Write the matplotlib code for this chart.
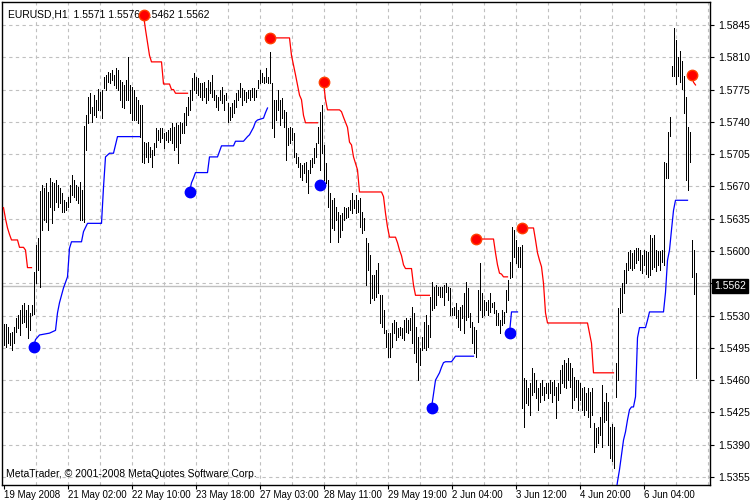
import numpy as np
import matplotlib
matplotlib.use('Agg')
import matplotlib.pyplot as plt
from matplotlib.transforms import blended_transform_factory

plt.rcParams['font.family'] = ['Liberation Sans', 'DejaVu Sans']

# prices are stored as the 4 digits after "1." (5521 -> 1.5521)
bar_high = [
    5521, 5521, 5518, 5511, 5512, 5518, 5527, 5531, 5536, 5541, 5544, 5536, 5541, 5533, 5541, 5577,
    5607, 5614, 5665, 5672, 5668, 5674, 5664, 5679, 5675, 5674, 5677, 5672, 5668, 5663, 5655, 5653,
    5659, 5672, 5682, 5677, 5672, 5669, 5675, 5666,
    5736, 5747, 5767, 5771, 5756, 5769, 5764, 5776, 5772,
    5775, 5789, 5791, 5794, 5793, 5796, 5791, 5798, 5796, 5785, 5783, 5780, 5785, 5810, 5780, 5778,
    5775, 5767, 5764, 5758, 5758, 5718, 5717, 5718, 5713, 5709, 5717, 5733, 5731, 5733, 5733, 5728,
    5729, 5731, 5733, 5739, 5734, 5739, 5737, 5740, 5739, 5750, 5756, 5767, 5775, 5788, 5793, 5789,
    5788, 5782,
    5782, 5783, 5777, 5785, 5783, 5791, 5775, 5769, 5767, 5775, 5778, 5769, 5771, 5760, 5756, 5760,
    5764, 5771, 5775, 5782, 5777, 5775, 5772, 5775, 5775, 5777, 5777, 5775, 5785, 5796, 5793, 5789,
    5798, 5789, 5816, 5782, 5764, 5764, 5775, 5764, 5766, 5753, 5751, 5733, 5734, 5733, 5728, 5706,
    5702, 5695,
    5693, 5695, 5696, 5688, 5699, 5701, 5712, 5717, 5734, 5751, 5758, 5715, 5695, 5677, 5663, 5655,
    5657, 5648, 5642, 5639, 5641, 5648, 5647, 5648, 5655, 5663, 5655, 5661, 5655, 5657, 5642, 5636,
    5614, 5609, 5596, 5574, 5574, 5579, 5587, 5552, 5552, 5536, 5514, 5511, 5511, 5522, 5525, 5523,
    5517, 5518,
    5517, 5525, 5527, 5525, 5527, 5539, 5533, 5518, 5507, 5495, 5507, 5523, 5531, 5520, 5550, 5566,
    5561, 5563, 5561, 5561, 5561, 5563, 5565, 5561, 5560, 5538, 5539, 5544, 5536, 5539, 5541, 5555,
    5566, 5560, 5533, 5523, 5518, 5514, 5558, 5587, 5555, 5547, 5545, 5547, 5555, 5544, 5545, 5536,
    5533, 5525,
    5536, 5534, 5558, 5569, 5588, 5626, 5623, 5612, 5604, 5604, 5607, 5462, 5460, 5452, 5457, 5473,
    5468, 5460, 5452, 5457, 5460, 5453, 5457, 5457, 5460, 5458, 5460, 5453, 5457, 5471, 5476, 5482,
    5479, 5484, 5479, 5473, 5463, 5460, 5460, 5457, 5452, 5453, 5446, 5452, 5447, 5452, 5414, 5408,
    5409, 5420,
    5455, 5436, 5446, 5436, 5409, 5412, 5409, 5479, 5538, 5560, 5565, 5579, 5587, 5599, 5601, 5598,
    5601, 5603, 5603, 5601, 5596, 5601, 5600, 5599, 5617, 5614, 5617, 5601, 5600, 5600, 5601, 5696,
    5695, 5729, 5745, 5801, 5842, 5829, 5810, 5817, 5806, 5790, 5767, 5734, 5729, 5612, 5601, 5576,
]
bar_low = [
    5498, 5496, 5500, 5498, 5493, 5500, 5512, 5517, 5509, 5522, 5523, 5518, 5506, 5514, 5531, 5532,
    5565, 5579, 5561, 5623, 5634, 5631, 5623, 5648, 5630, 5644, 5653, 5648, 5652, 5642, 5642, 5644,
    5648, 5653, 5661, 5659, 5655, 5652, 5634, 5634,
    5631, 5709, 5739, 5750, 5740, 5747, 5745, 5753, 5753,
    5744, 5777, 5775, 5783, 5782, 5785, 5780, 5777, 5775, 5764, 5756, 5755, 5764, 5764, 5750, 5742,
    5742, 5742, 5739, 5724, 5696, 5695, 5702, 5696, 5702, 5691, 5704, 5713, 5720, 5718, 5723, 5712,
    5720, 5718, 5720, 5717, 5709, 5713, 5695, 5717, 5728, 5728, 5737, 5747, 5753, 5764, 5775, 5771,
    5769, 5767,
    5764, 5767, 5760, 5764, 5771, 5767, 5764, 5756, 5753, 5764, 5760, 5753, 5764, 5740, 5742, 5745,
    5750, 5756, 5764, 5767, 5758, 5764, 5762, 5766, 5764, 5767, 5764, 5767, 5777, 5782, 5783, 5782,
    5783, 5782, 5782, 5733, 5724, 5742, 5753, 5737, 5744, 5734, 5699, 5715, 5717, 5720, 5702, 5695,
    5691, 5680,
    5677, 5685, 5675, 5663, 5685, 5691, 5695, 5702, 5717, 5688, 5706, 5677, 5674, 5648, 5610, 5625,
    5623, 5634, 5610, 5615, 5623, 5634, 5636, 5637, 5644, 5641, 5647, 5641, 5642, 5626, 5620, 5623,
    5563, 5579, 5544, 5549, 5547, 5550, 5555, 5522, 5518, 5511, 5496, 5485, 5485, 5496, 5511, 5504,
    5507, 5509,
    5506, 5504, 5512, 5511, 5514, 5500, 5489, 5480, 5460, 5476, 5493, 5495, 5493, 5496, 5507, 5536,
    5538, 5541, 5552, 5550, 5550, 5541, 5556, 5547, 5531, 5531, 5531, 5527, 5518, 5514, 5527, 5511,
    5525, 5529, 5518, 5500, 5489, 5485, 5523, 5536, 5529, 5531, 5536, 5531, 5534, 5539, 5533, 5520,
    5520, 5511,
    5520, 5522, 5534, 5547, 5571, 5572, 5594, 5587, 5583, 5583, 5430, 5409, 5435, 5433, 5422, 5444,
    5447, 5441, 5428, 5436, 5444, 5439, 5446, 5441, 5446, 5436, 5444, 5419, 5439, 5446, 5457, 5453,
    5452, 5460, 5453, 5430, 5438, 5442, 5428, 5439, 5428, 5422, 5428, 5420, 5409, 5422, 5382, 5388,
    5392, 5401,
    5388, 5415, 5417, 5390, 5376, 5372, 5365, 5442, 5460, 5533, 5534, 5555, 5565, 5579, 5582, 5579,
    5582, 5587, 5590, 5579, 5576, 5585, 5575, 5572, 5574, 5580, 5583, 5578, 5585, 5579, 5588, 5585,
    5679, 5679, 5725, 5790, 5790, 5781, 5790, 5783, 5776, 5750, 5677, 5666, 5696, 5572, 5553, 5462,
]

# trailing stop lines: (bar index, level) pieces
red_lines = [
    ([0, 1, 2, 3, 4, 7, 8, 10, 11, 12, 14],
     [5647, 5635, 5625, 5618, 5612, 5612, 5604, 5604, 5601, 5582, 5582]),
    ([70, 71, 72, 73, 74, 79, 80, 83, 84, 85, 86, 92],
     [5856, 5840, 5826, 5812, 5805, 5805, 5781, 5781, 5775, 5775, 5771, 5771]),
    ([133, 143, 144, 146, 148, 149, 150, 151, 157],
     [5831, 5831, 5812, 5791, 5769, 5764, 5747, 5739, 5739]),
    ([160, 161, 162, 168, 169, 170, 172, 173, 174, 175, 176, 177, 178, 189, 190, 191, 192, 193,
      196, 197, 198, 199, 200, 201, 204, 205, 206, 213],
     [5783, 5764, 5753, 5753, 5751, 5745, 5734, 5718, 5715, 5702, 5695, 5688, 5664, 5664, 5659,
      5641, 5626, 5615, 5615, 5609, 5601, 5595, 5585, 5581, 5581, 5563, 5552, 5552]),
    ([236, 245, 246, 247, 248, 249, 250, 252],
     [5613, 5613, 5598, 5585, 5576, 5575, 5572, 5572]),
    ([259, 265, 266, 267, 268, 269, 270, 271, 272, 292, 293, 294, 295, 305],
     [5625, 5625, 5612, 5598, 5590, 5583, 5565, 5533, 5522, 5522, 5511, 5500, 5468, 5468]),
    ([344, 345, 346], [5791, 5783, 5780]),
]
blue_lines = [
    ([15, 16, 18, 23, 26, 27, 28, 30, 32, 33, 34, 39, 40, 42, 49, 50, 51, 53, 55, 56, 57, 68],
     [5496, 5504, 5509, 5511, 5514, 5533, 5544, 5560, 5572, 5603, 5610, 5610, 5621, 5630, 5630,
      5669, 5702, 5706, 5706, 5715, 5724, 5724]),
    ([93, 94, 95, 96, 102, 103, 107, 109, 115, 116, 120, 122, 123, 125, 126, 127, 130, 131, 132],
     [5664, 5674, 5679, 5685, 5685, 5702, 5702, 5714, 5714, 5719, 5719, 5724, 5726, 5734, 5740,
      5742, 5744, 5750, 5755]),
    ([214, 216, 218, 219, 220, 221, 224, 226, 235],
     [5430, 5460, 5468, 5474, 5479, 5480, 5480, 5486, 5486]),
    ([253, 254, 257], [5511, 5534, 5534]),
    ([306, 307, 308, 310, 311, 312, 313, 314, 315, 316, 317, 318, 321, 322, 323, 330, 331, 332,
      333, 334, 335, 336, 342],
     [5335, 5350, 5363, 5395, 5404, 5417, 5428, 5431, 5431, 5442, 5506, 5517, 5517, 5525, 5534,
      5534, 5555, 5590, 5601, 5623, 5644, 5655, 5655]),
]
red_dot_x = [70, 133, 160, 236, 259, 344]
red_dot_y = [5856, 5831, 5783, 5613, 5625, 5791]
blue_dot_x = [15, 93, 158, 214, 253]
blue_dot_y = [5496, 5664, 5672, 5430, 5511]

price_levels = [5355 + 35 * k for k in range(15)]
last_price = 5562
date_ticks = [0, 32, 64, 96, 128, 160, 192, 224, 256, 288, 320]
date_labels = ['19 May 2008', '21 May 02:00', '22 May 10:00', '23 May 18:00', '27 May 03:00',
               '28 May 11:00', '29 May 19:00', '2 Jun 04:00', '3 Jun 12:00', '4 Jun 20:00',
               '6 Jun 04:00']


def px(p):
    return 1 + np.asarray(p) / 1e4


fig = plt.figure(figsize=(7.5, 5), dpi=100)
fig.patch.set_facecolor('white')
ax = fig.add_axes([2 / 750, 15 / 500, 708 / 750, 483 / 500])
ax.set_facecolor('white')
# bar i sits on pixel column 3 + 2*i
ax.set_xlim(-0.75, 353.25)
ax.set_ylim(1.53464, 1.58699)

# grid
for i in range(16, 354, 16):
    ax.axvline(i, color='#c0c0c0', lw=0.8, ls=(0, (3, 3)), zorder=0)
for lv in price_levels:
    ax.axhline(px(lv), color='#c0c0c0', lw=0.8, ls=(0, (3, 3)), zorder=0)
ax.axhline(px(last_price), color='#c0c0c0', lw=1.0, zorder=1)

idx = np.arange(len(bar_high))
ax.vlines(idx, px(bar_low), px(bar_high), colors='black', linewidth=0.7,
          antialiased=False, zorder=2)

for xs, ys in red_lines:
    ax.plot(xs, px(ys), color='#ff0000', lw=0.9, zorder=3)
for xs, ys in blue_lines:
    ax.plot(xs, px(ys), color='#0000ff', lw=0.9, zorder=3)
ax.plot(red_dot_x, px(red_dot_y), 'o', color='#ff0000', ms=7.5, mec='#ff4000', zorder=4)
ax.plot(blue_dot_x, px(blue_dot_y), 'o', color='#0000ff', ms=7.5, mec='#0000ff', zorder=4)

# axes and ticks
for s in ax.spines.values():
    s.set_color('black')
    s.set_linewidth(1.0)
ax.yaxis.tick_right()
ax.set_yticks(px(price_levels))
ax.set_yticklabels(['' if lv == 5565 else '1.%04d' % lv for lv in price_levels])
ax.set_xticks(date_ticks)
ax.set_xticklabels(date_labels)
for lab in ax.get_xticklabels():
    lab.set_horizontalalignment('left')
ax.tick_params(axis='y', direction='out', length=3, labelsize=7.5, pad=3)
ax.tick_params(axis='x', direction='out', length=3, labelsize=7, pad=0.5)

tr = blended_transform_factory(ax.transAxes, ax.transData)
ax.text(1.006, px(last_price), '1.%04d' % last_price, transform=tr, va='center', ha='left',
        fontsize=7.5, color='white', clip_on=False,
        bbox=dict(boxstyle='square,pad=0.2', fc='black', ec='black'))

ax.text(0.008, 0.985, 'EURUSD,H1  1.5571 1.5576 1.5462 1.5562', transform=ax.transAxes,
        va='top', ha='left', fontsize=7.5, color='black')
ax.text(0.005, 0.012, 'MetaTrader, \u00a9 2001-2008 MetaQuotes Software Corp.',
        transform=ax.transAxes, va='bottom', ha='left', fontsize=7.5, color='black')

fig.savefig('out.png', dpi=100)
